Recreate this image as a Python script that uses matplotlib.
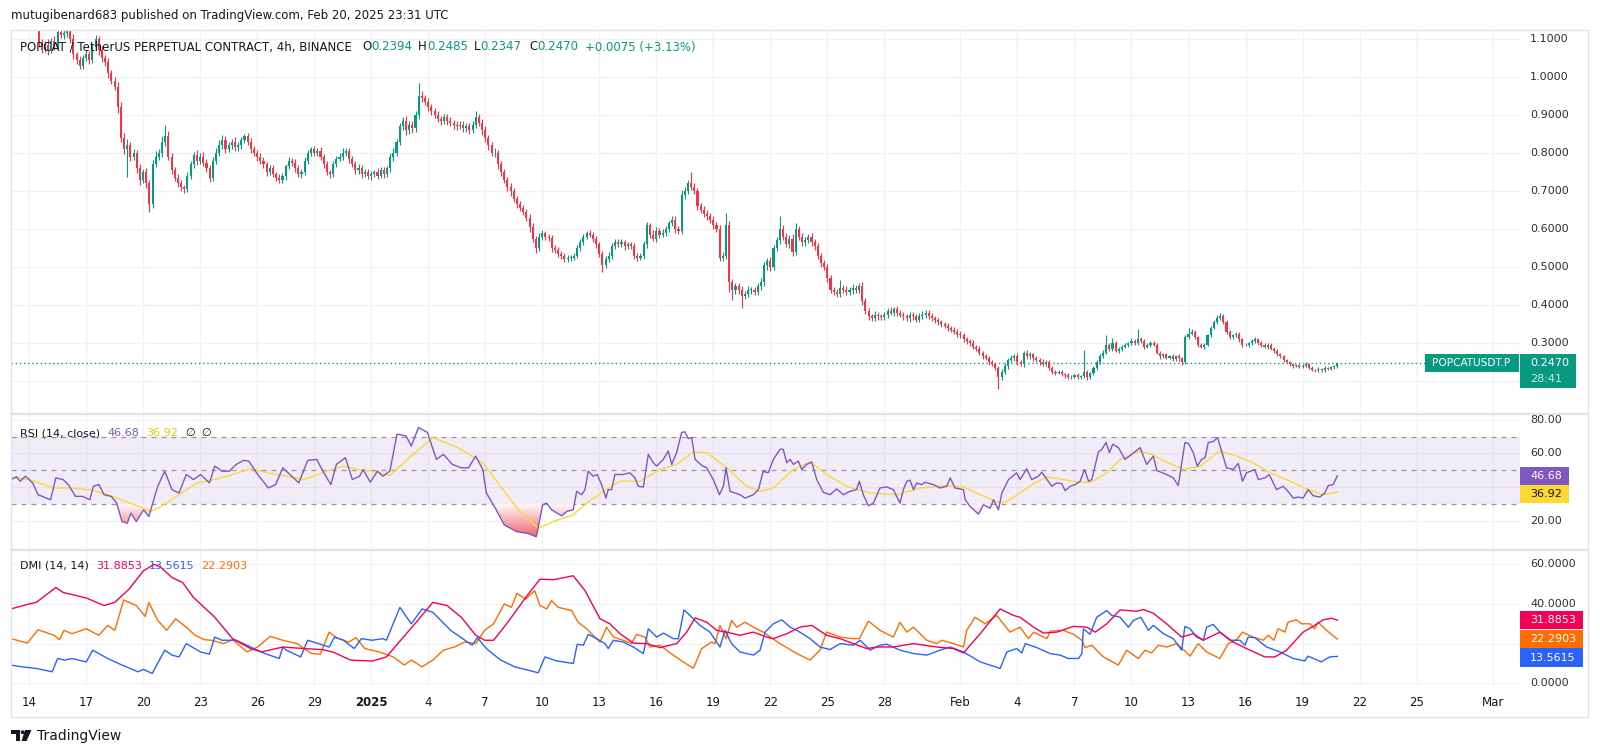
import numpy as np
import matplotlib
matplotlib.use('Agg')
import matplotlib.pyplot as plt
from matplotlib.patches import Rectangle, Polygon, Circle
from matplotlib.lines import Line2D
from matplotlib.path import Path
from matplotlib.colors import LinearSegmentedColormap
from matplotlib.transforms import blended_transform_factory

plt.rcParams['font.family'] = ['DejaVu Sans']

# ------------ data: POPCAT/USDT.P 4h, first bar 2024-12-13 04:00 UTC ------------
# x values are days since 2025-01-01 00:00 UTC

OPEN0 = 1.150
CLOSE = [
    [1.160, 1.150, 1.165, 1.150, 1.140],          # Dec 13
    [1.140, 1.135, 1.128, 1.090, 1.072, 1.085],   # Dec 14
    [1.070, 1.095, 1.080, 1.118, 1.110, 1.115],
    [1.120, 1.100, 1.060, 1.045, 1.030, 1.050],
    [1.060, 1.045, 1.080, 1.100, 1.070, 1.050],
    [1.040, 1.010, 0.990, 0.975, 0.920, 0.840],
    [0.810, 0.820, 0.790, 0.800, 0.760, 0.730],
    [0.750, 0.720, 0.665, 0.770, 0.790, 0.800],   # Dec 20
    [0.830, 0.845, 0.790, 0.755, 0.735, 0.720],
    [0.710, 0.705, 0.740, 0.770, 0.795, 0.780],
    [0.790, 0.775, 0.760, 0.735, 0.780, 0.800],
    [0.820, 0.835, 0.810, 0.820, 0.830, 0.815],
    [0.820, 0.835, 0.845, 0.830, 0.810, 0.800],
    [0.790, 0.780, 0.770, 0.750, 0.760, 0.745],
    [0.735, 0.730, 0.740, 0.765, 0.780, 0.775],
    [0.760, 0.745, 0.750, 0.780, 0.800, 0.810],
    [0.800, 0.805, 0.790, 0.770, 0.750, 0.745],
    [0.770, 0.785, 0.790, 0.800, 0.805, 0.785],
    [0.770, 0.755, 0.760, 0.745, 0.750, 0.740],   # Dec 31
    [0.745, 0.750, 0.740, 0.755, 0.745, 0.760],   # Jan 1
    [0.790, 0.800, 0.830, 0.870, 0.885, 0.860],
    [0.875, 0.865, 0.900, 0.950, 0.945, 0.935],
    [0.920, 0.910, 0.900, 0.890, 0.885, 0.895],
    [0.885, 0.880, 0.875, 0.870, 0.875, 0.865],
    [0.870, 0.860, 0.875, 0.895, 0.880, 0.860],
    [0.840, 0.820, 0.800, 0.800, 0.770, 0.750],
    [0.730, 0.710, 0.700, 0.680, 0.665, 0.655],
    [0.645, 0.630, 0.605, 0.575, 0.550, 0.580],
    [0.590, 0.580, 0.576, 0.550, 0.545, 0.535],   # Jan 10
    [0.530, 0.520, 0.525, 0.525, 0.530, 0.550],
    [0.565, 0.580, 0.590, 0.585, 0.575, 0.560],
    [0.535, 0.505, 0.520, 0.530, 0.555, 0.565],
    [0.560, 0.565, 0.555, 0.560, 0.555, 0.530],
    [0.525, 0.530, 0.560, 0.610, 0.585, 0.575],
    [0.595, 0.585, 0.590, 0.600, 0.615, 0.625],
    [0.600, 0.595, 0.690, 0.700, 0.720, 0.710],
    [0.700, 0.660, 0.650, 0.640, 0.635, 0.625],
    [0.610, 0.600, 0.525, 0.530, 0.610, 0.460],
    [0.440, 0.450, 0.440, 0.425, 0.430, 0.440],   # Jan 20
    [0.440, 0.435, 0.450, 0.460, 0.505, 0.515],
    [0.500, 0.550, 0.570, 0.600, 0.580, 0.560],
    [0.575, 0.540, 0.600, 0.580, 0.565, 0.570],
    [0.580, 0.565, 0.555, 0.530, 0.510, 0.500],
    [0.470, 0.440, 0.435, 0.430, 0.445, 0.440],
    [0.435, 0.440, 0.445, 0.440, 0.450, 0.410],
    [0.385, 0.370, 0.365, 0.375, 0.370, 0.368],
    [0.375, 0.385, 0.380, 0.390, 0.380, 0.375],
    [0.370, 0.365, 0.375, 0.370, 0.362, 0.370],
    [0.375, 0.380, 0.370, 0.365, 0.360, 0.355],
    [0.350, 0.345, 0.340, 0.335, 0.330, 0.325],   # Jan 31
    [0.320, 0.310, 0.305, 0.300, 0.290, 0.285],   # Feb 1
    [0.275, 0.265, 0.260, 0.250, 0.245, 0.235],
    [0.210, 0.225, 0.240, 0.255, 0.260, 0.265],
    [0.250, 0.245, 0.275, 0.265, 0.270, 0.260],
    [0.255, 0.250, 0.245, 0.250, 0.235, 0.225],
    [0.222, 0.225, 0.218, 0.215, 0.210, 0.212],
    [0.215, 0.210, 0.213, 0.225, 0.210, 0.220],
    [0.235, 0.250, 0.265, 0.275, 0.295, 0.285],
    [0.300, 0.280, 0.285, 0.290, 0.295, 0.300],
    [0.305, 0.300, 0.310, 0.305, 0.290, 0.295],   # Feb 10
    [0.300, 0.295, 0.275, 0.265, 0.270, 0.262],
    [0.265, 0.258, 0.265, 0.260, 0.250, 0.315],
    [0.325, 0.330, 0.315, 0.295, 0.290, 0.295],
    [0.320, 0.340, 0.355, 0.365, 0.370, 0.355],
    [0.330, 0.315, 0.320, 0.325, 0.310, 0.295],
    [0.295, 0.300, 0.305, 0.310, 0.300, 0.295],
    [0.290, 0.295, 0.285, 0.280, 0.270, 0.265],
    [0.255, 0.250, 0.245, 0.240, 0.242, 0.238],
    [0.240, 0.245, 0.235, 0.230, 0.228, 0.232],
    [0.228, 0.235, 0.232, 0.236, 0.2394, 0.2470], # Feb 20
]

# wick lengths beyond the body, in thousandths
WICK_UP = [
    [10, 8, 12, 9, 10],
    [6, 8, 5, 12, 9, 10], [15, 8, 12, 10, 7, 9], [8, 10, 12, 7, 9, 8],
    [12, 9, 8, 10, 8, 12], [9, 11, 8, 10, 12, 15], [12, 18, 9, 10, 8, 11],
    [8, 10, 9, 12, 15, 10], [14, 30, 12, 9, 8, 10], [8, 6, 10, 8, 9, 14],
    [10, 12, 8, 9, 10, 12], [15, 12, 9, 10, 8, 12], [10, 8, 6, 9, 10, 8],
    [8, 9, 10, 7, 8, 9], [6, 9, 8, 7, 10, 8], [8, 9, 7, 10, 8, 7],
    [9, 8, 10, 7, 8, 6], [8, 7, 9, 12, 9, 8], [6, 9, 12, 8, 7, 8],
    [9, 6, 10, 8, 9, 7], [10, 12, 8, 10, 9, 12], [8, 10, 10, 35, 12, 9],
    [10, 8, 9, 10, 7, 9], [8, 9, 7, 8, 10, 8], [9, 10, 8, 15, 8, 9],
    [10, 8, 9, 12, 8, 10], [9, 8, 10, 7, 8, 9], [8, 7, 9, 10, 8, 9],
    [8, 6, 7, 9, 8, 7], [6, 7, 8, 6, 7, 8], [9, 8, 6, 7, 8, 7],
    [6, 7, 8, 9, 7, 8], [10, 8, 7, 6, 7, 8], [6, 8, 9, 8, 7, 12],
    [10, 8, 9, 8, 7, 10], [9, 8, 12, 10, 9, 29], [12, 9, 8, 10, 9, 8],
    [9, 8, 10, 9, 33, 12], [8, 9, 7, 10, 8, 9], [7, 8, 9, 10, 8, 10],
    [12, 9, 10, 34, 10, 9], [10, 12, 15, 8, 10, 9], [8, 10, 9, 7, 8, 9],
    [8, 9, 7, 6, 21, 8], [9, 8, 10, 7, 8, 10], [8, 6, 7, 9, 6, 7],
    [8, 7, 10, 6, 8, 7], [6, 7, 8, 7, 6, 8], [9, 7, 6, 8, 7, 6],
    [7, 6, 8, 5, 6, 7], [6, 7, 5, 6, 7, 5], [6, 5, 7, 5, 6, 5],
    [6, 8, 7, 6, 8, 7], [9, 6, 5, 8, 6, 5], [6, 5, 7, 5, 6, 5],
    [5, 4, 5, 4, 5, 4], [4, 5, 4, 57, 5, 4], [5, 6, 5, 7, 27, 6],
    [13, 6, 5, 6, 5, 4], [8, 5, 27, 6, 5, 4], [6, 5, 4, 5, 4, 5],
    [4, 5, 4, 5, 4, 6], [15, 6, 5, 4, 5, 4], [5, 4, 6, 8, 9, 6],
    [5, 4, 5, 4, 5, 4], [5, 4, 6, 5, 4, 5], [4, 5, 4, 5, 4, 3],
    [4, 3, 4, 3, 4, 3], [4, 5, 3, 4, 3, 4], [3, 4, 3, 4, 3, 1.5],
]
WICK_DN = [
    [10, 9, 8, 10, 9],
    [6, 5, 5, 10, 8, 7], [12, 8, 9, 7, 8, 10], [9, 10, 12, 10, 8, 9],
    [8, 10, 9, 8, 12, 10], [10, 12, 9, 8, 15, 12], [12, 73, 10, 9, 12, 14],
    [10, 12, 20, 10, 8, 9], [10, 12, 9, 10, 8, 9], [10, 10, 8, 9, 10, 12],
    [9, 8, 10, 12, 8, 9], [8, 10, 9, 8, 10, 9], [9, 10, 8, 9, 10, 8],
    [10, 8, 9, 10, 7, 9], [8, 9, 8, 10, 7, 8], [9, 8, 10, 7, 8, 9],
    [8, 7, 9, 10, 8, 12], [9, 8, 7, 8, 9, 10], [8, 10, 9, 12, 8, 9],
    [10, 8, 9, 7, 10, 8], [9, 10, 8, 9, 10, 12], [10, 12, 9, 10, 10, 8],
    [9, 10, 8, 9, 10, 8], [10, 8, 12, 9, 8, 10], [9, 10, 8, 9, 10, 12],
    [10, 12, 9, 10, 12, 10], [10, 9, 12, 10, 9, 8], [9, 10, 12, 10, 12, 9],
    [8, 9, 7, 10, 8, 9], [8, 7, 6, 8, 7, 6], [7, 8, 6, 7, 8, 9],
    [8, 17, 8, 7, 9, 8], [8, 7, 9, 8, 7, 8], [8, 7, 8, 9, 8, 7],
    [9, 8, 7, 8, 9, 8], [10, 9, 8, 10, 9, 8], [9, 10, 8, 9, 10, 8],
    [10, 9, 8, 10, 9, 25], [26, 10, 12, 33, 10, 9], [10, 9, 8, 10, 9, 12],
    [10, 9, 8, 10, 9, 8], [10, 12, 9, 8, 10, 9], [8, 10, 9, 8, 10, 9],
    [10, 9, 8, 10, 9, 8], [9, 8, 10, 9, 8, 10], [9, 8, 7, 8, 9, 7],
    [8, 9, 7, 8, 9, 7], [8, 7, 9, 8, 7, 6], [7, 8, 6, 7, 8, 7],
    [7, 6, 8, 7, 6, 8], [7, 6, 8, 7, 6, 7], [6, 7, 5, 8, 6, 7],
    [30, 7, 6, 8, 6, 7], [8, 6, 7, 6, 7, 8], [6, 7, 5, 6, 7, 6],
    [5, 4, 5, 6, 5, 4], [4, 5, 4, 5, 6, 4], [4, 5, 4, 5, 4, 6],
    [5, 4, 6, 5, 4, 5], [4, 5, 4, 5, 6, 4], [5, 4, 5, 6, 4, 5],
    [4, 5, 4, 6, 7, 4], [5, 4, 5, 6, 4, 5], [4, 5, 4, 5, 4, 6],
    [5, 4, 5, 4, 6, 5], [4, 5, 4, 5, 4, 5], [4, 5, 4, 5, 4, 5],
    [4, 3, 4, 5, 3, 4], [3, 4, 3, 4, 5, 3], [5, 3, 4, 3, 4, 4.7],
]

RSI_PTS = [
    (-18.95, 44.4), (-18.66, 46.0), (-18.47, 43.4), (-18.19, 46.4), (-17.81, 42.4),
    (-17.53, 35.4), (-16.87, 32.4), (-16.59, 45.4), (-16.21, 44.4), (-15.93, 41.4),
    (-15.56, 34.4), (-15.18, 34.4), (-14.80, 32.4), (-14.62, 40.4), (-14.33, 41.4),
    (-14.05, 35.4), (-13.68, 34.4), (-13.39, 30.4), (-13.11, 19.4), (-12.83, 18.4),
    (-12.64, 24.4), (-12.36, 19.4), (-11.98, 26.4), (-11.70, 22.4), (-11.23, 40.4),
    (-10.86, 49.4), (-10.48, 38.4), (-10.11, 36.4), (-9.73, 47.4), (-9.35, 44.4),
    (-8.98, 47.4), (-8.51, 42.4), (-8.23, 52.4), (-7.85, 49.4), (-7.47, 49.4),
    (-7.10, 53.4), (-6.72, 55.8), (-6.44, 55.4), (-5.97, 47.4), (-5.41, 39.4),
    (-5.03, 41.4), (-4.65, 51.4), (-4.28, 47.4), (-3.81, 42.4), (-3.34, 55.8),
    (-2.87, 56.4), (-2.49, 48.4), (-2.12, 41.4), (-1.83, 53.4), (-1.36, 57.4),
    (-0.99, 44.4), (-0.61, 46.4), (-0.42, 50.4), (-0.05, 42.8), (0.33, 49.4),
    (0.61, 46.4), (0.98, 49.4), (1.36, 71.4), (1.83, 70.4), (2.11, 64.4),
    (2.49, 75.4), (2.96, 72.4), (3.43, 56.4), (3.80, 59.4), (4.27, 53.4),
    (4.74, 51.4), (5.12, 51.4), (5.50, 58.4), (5.87, 50.4), (6.06, 36.4),
    (6.53, 27.4), (7.00, 17.4), (7.66, 13.4), (8.22, 12.4), (8.69, 10.4),
    (9.02, 29.4), (9.23, 30.4), (9.49, 26.4), (10.02, 22.8), (10.28, 25.4),
    (10.63, 26.4), (10.81, 37.4), (11.07, 35.4), (11.25, 38.4), (11.42, 49.4),
    (11.68, 46.4), (11.89, 47.4), (12.12, 41.4), (12.35, 33.4), (12.47, 38.4),
    (12.65, 38.4), (12.82, 47.4), (13.26, 47.4), (13.61, 48.4), (13.88, 45.4),
    (14.05, 40.4), (14.32, 40.0), (14.58, 59.4), (14.84, 54.4), (15.02, 52.4),
    (15.37, 56.4), (15.63, 61.4), (15.81, 53.4), (16.07, 60.4), (16.33, 72.4),
    (16.51, 72.8), (16.68, 68.8), (16.86, 69.4), (17.04, 56.4), (17.39, 52.8),
    (17.65, 51.4), (18.00, 44.4), (18.32, 35.4), (18.53, 40.4), (18.67, 51.4),
    (18.88, 37.4), (19.14, 36.4), (19.40, 35.4), (19.67, 33.4), (20.11, 35.4),
    (20.37, 38.4), (20.63, 49.4), (20.89, 48.4), (21.16, 56.4), (21.51, 62.4),
    (21.68, 62.4), (21.86, 54.4), (22.04, 56.4), (22.21, 53.4), (22.47, 55.4),
    (22.65, 50.4), (22.91, 53.4), (23.18, 54.8), (23.44, 44.4), (23.79, 36.8),
    (24.14, 35.4), (24.49, 38.8), (24.84, 35.4), (25.19, 37.4), (25.54, 38.4),
    (25.68, 43.4), (25.89, 35.4), (26.16, 28.8), (26.42, 30.4), (26.77, 39.4),
    (27.12, 40.0), (27.47, 38.4), (27.82, 30.4), (28.00, 38.4), (28.18, 43.4),
    (28.35, 44.0), (28.53, 38.4), (28.70, 42.4), (28.96, 41.4), (29.14, 42.8),
    (29.58, 41.4), (29.93, 39.4), (30.28, 40.4), (30.46, 45.4), (30.72, 39.4),
    (31.16, 38.4), (31.25, 32.4), (31.51, 28.4), (31.95, 23.8), (32.21, 29.4),
    (32.56, 27.4), (32.74, 32.4), (33.00, 26.4), (33.18, 36.4), (33.53, 44.4),
    (33.96, 48.4), (34.14, 44.4), (34.49, 50.8), (34.75, 44.4), (35.11, 46.4),
    (35.28, 48.8), (35.81, 40.4), (36.07, 42.4), (36.33, 42.0), (36.51, 37.8),
    (36.77, 40.4), (37.04, 41.4), (37.30, 43.4), (37.53, 50.4), (37.74, 43.4),
    (37.91, 44.4), (38.26, 60.8), (38.44, 62.4), (38.66, 66.4), (38.84, 60.4),
    (39.01, 65.4), (39.31, 63.4), (39.66, 56.4), (40.01, 59.4), (40.45, 63.4),
    (40.80, 53.4), (41.15, 58.4), (41.33, 49.8), (41.85, 47.4), (42.20, 45.4),
    (42.46, 40.8), (42.81, 66.4), (42.99, 66.0), (43.25, 60.4), (43.46, 52.4),
    (43.69, 56.4), (43.87, 57.4), (44.04, 66.4), (44.30, 67.0), (44.53, 69.4),
    (44.74, 61.4), (45.00, 51.4), (45.35, 50.4), (45.62, 54.0), (45.84, 43.4),
    (46.05, 48.4), (46.49, 50.4), (46.67, 44.4), (47.02, 45.4), (47.25, 47.4),
    (47.63, 38.4), (47.98, 40.4), (48.24, 37.4), (48.51, 33.4), (48.77, 34.0),
    (49.03, 33.4), (49.29, 38.4), (49.56, 34.8), (49.91, 34.0), (50.17, 36.4),
    (50.35, 40.8), (50.61, 41.4), (50.83, 46.68),
]
RSI_MA_PTS = [
    (-18.95, 46.0), (-18.0, 44.4), (-16.68, 39.4), (-15.74, 39.4), (-14.62, 38.0),
    (-13.86, 35.4), (-12.92, 31.4), (-11.98, 27.4), (-11.61, 25.4), (-11.05, 28.4),
    (-10.11, 35.4), (-9.17, 42.4), (-8.23, 44.4), (-7.29, 47.4), (-6.35, 50.8),
    (-5.41, 48.4), (-4.47, 46.4), (-3.53, 44.4), (-2.59, 48.4), (-1.46, 52.4),
    (-0.71, 50.4), (0.23, 49.0), (0.98, 46.8), (2.11, 58.4), (3.24, 69.4),
    (4.56, 63.4), (5.87, 54.4), (6.81, 40.4), (7.75, 26.4), (8.79, 15.4),
    (9.58, 19.4), (10.63, 23.4), (11.33, 30.4), (12.21, 37.4), (13.09, 43.4),
    (14.14, 43.4), (15.19, 50.4), (16.07, 53.4), (16.95, 60.8), (17.65, 60.4),
    (18.70, 51.4), (19.75, 40.4), (20.46, 37.4), (21.16, 39.4), (22.21, 50.4),
    (23.09, 55.0), (23.96, 47.4), (25.02, 40.4), (26.25, 36.4), (27.65, 35.4),
    (28.88, 39.4), (30.28, 40.8), (31.16, 40.0), (32.04, 35.4), (33.09, 30.4),
    (33.44, 31.4), (34.14, 36.4), (34.85, 42.0), (35.55, 46.0), (36.42, 44.4),
    (37.12, 42.8), (37.91, 42.8), (38.70, 48.4), (39.40, 56.4), (40.45, 61.4),
    (41.15, 59.0), (41.85, 54.8), (42.73, 50.4), (43.60, 52.4), (44.65, 61.4),
    (45.53, 58.4), (46.40, 54.4), (47.11, 49.4), (48.16, 44.4), (49.21, 38.8),
    (50.08, 35.4), (50.83, 36.92),
]

# DMI(14, 14): ADX, +DI, -DI  (day, value)
ADX_PTS = [
    (-18.95, 37.5), (-18.0, 40.0), (-17.62, 40.8), (-16.59, 48.3), (-16.21, 45.8),
    (-14.99, 43.0), (-14.05, 39.2), (-13.49, 40.8), (-12.74, 47.5), (-11.98, 56.7),
    (-11.42, 60.0), (-11.05, 58.3), (-10.48, 53.3), (-9.92, 50.8), (-9.35, 43.3),
    (-8.23, 33.3), (-7.29, 22.5), (-6.35, 17.5), (-5.78, 15.8), (-4.65, 18.3),
    (-3.53, 17.5), (-2.59, 17.0), (-2.02, 15.8), (-1.08, 11.7), (0.05, 11.2),
    (0.80, 13.3), (1.55, 21.7), (2.30, 30.0), (3.24, 40.8), (3.99, 39.2),
    (4.74, 33.3), (5.50, 24.2), (5.97, 21.7), (6.44, 21.7), (7.19, 30.8),
    (8.13, 43.3), (8.88, 52.5), (9.58, 52.2), (10.63, 54.2), (11.25, 46.7),
    (12.04, 32.5), (12.56, 30.0), (13.09, 25.0), (13.79, 20.3), (14.49, 20.0),
    (15.19, 18.0), (16.07, 20.0), (16.60, 25.8), (17.04, 33.0), (17.65, 30.8),
    (18.18, 26.7), (18.70, 25.8), (19.40, 24.2), (20.11, 25.8), (20.81, 23.3),
    (21.16, 22.5), (21.86, 25.0), (22.56, 28.3), (23.18, 29.2), (23.96, 24.2),
    (24.67, 22.5), (25.37, 20.0), (26.07, 17.5), (26.60, 18.3), (27.47, 18.3),
    (28.53, 20.0), (29.75, 18.3), (30.63, 17.5), (31.16, 15.3), (32.04, 25.0),
    (33.09, 37.5), (33.79, 34.2), (34.14, 33.3), (34.85, 28.3), (35.37, 25.3),
    (36.07, 25.8), (36.95, 28.7), (37.65, 28.3), (38.09, 25.8), (38.70, 30.0),
    (39.40, 37.0), (40.27, 36.3), (40.63, 37.2), (41.15, 35.3), (41.85, 30.0),
    (42.64, 23.3), (43.25, 25.0), (43.78, 21.7), (44.65, 25.8), (45.35, 20.8),
    (46.05, 17.5), (47.02, 13.3), (47.54, 13.3), (48.16, 16.7), (49.03, 25.8),
    (49.56, 28.7), (50.08, 32.0), (50.52, 32.8), (50.83, 31.8853),
]
PDI_PTS = [
    (-18.95, 9.2), (-18.38, 8.3), (-17.62, 7.5), (-16.78, 5.8), (-16.50, 12.5),
    (-16.12, 11.7), (-15.74, 12.5), (-14.99, 10.8), (-14.65, 16.7), (-13.86, 12.5),
    (-13.11, 9.2), (-12.27, 5.8), (-11.98, 7.0), (-11.52, 5.0), (-10.86, 16.7),
    (-10.48, 14.2), (-10.11, 13.3), (-9.73, 20.0), (-8.98, 15.8), (-8.51, 14.7),
    (-8.23, 23.3), (-7.85, 21.7), (-7.10, 21.7), (-6.35, 18.3), (-5.59, 15.0),
    (-4.84, 12.5), (-4.65, 18.3), (-4.47, 16.7), (-3.71, 13.3), (-3.34, 21.7),
    (-2.77, 20.0), (-2.21, 18.3), (-1.93, 23.3), (-1.46, 21.7), (-0.89, 17.5),
    (-0.52, 22.5), (0.05, 21.7), (0.61, 22.5), (0.80, 21.7), (1.51, 38.3),
    (2.11, 30.0), (2.68, 37.5), (3.24, 35.8), (4.18, 26.7), (4.93, 21.7),
    (5.31, 19.2), (5.59, 23.0), (6.06, 17.5), (6.81, 11.7), (7.56, 8.3),
    (8.79, 5.3), (9.14, 13.3), (9.75, 11.3), (10.63, 10.0), (10.84, 19.7),
    (11.16, 19.2), (11.42, 24.7), (11.86, 22.5), (12.30, 20.0), (12.47, 17.5),
    (12.74, 21.7), (13.26, 20.8), (13.79, 18.3), (14.32, 15.0), (14.58, 27.5),
    (15.02, 23.3), (15.37, 25.3), (15.89, 22.5), (16.16, 22.5), (16.46, 37.0),
    (16.77, 34.2), (17.30, 29.2), (17.82, 25.8), (18.35, 18.3), (18.61, 26.7),
    (18.96, 20.0), (19.40, 15.8), (20.11, 14.2), (20.46, 16.7), (20.72, 25.8),
    (21.16, 30.0), (21.60, 32.0), (22.04, 28.3), (22.39, 26.7), (22.74, 24.7),
    (23.09, 22.5), (23.61, 18.3), (24.14, 17.0), (24.67, 20.0), (25.37, 19.2),
    (25.72, 21.7), (26.25, 16.7), (26.77, 19.2), (27.12, 19.7), (27.82, 16.7),
    (28.53, 15.0), (29.23, 14.2), (29.93, 16.7), (30.46, 18.3), (31.16, 15.8),
    (32.04, 10.8), (33.09, 7.5), (33.44, 15.8), (33.96, 17.5), (34.23, 15.3),
    (34.41, 20.0), (35.02, 18.0), (35.72, 15.0), (36.25, 14.2), (36.68, 12.5),
    (37.21, 12.5), (37.39, 15.0), (37.47, 27.5), (37.82, 24.7), (38.17, 33.3),
    (38.70, 36.7), (38.96, 34.2), (39.40, 33.3), (39.84, 28.3), (40.10, 31.7),
    (40.49, 33.3), (40.89, 26.7), (41.15, 29.2), (41.68, 25.0), (42.20, 22.5),
    (42.64, 16.7), (42.81, 28.7), (43.08, 27.5), (43.43, 23.3), (43.78, 21.7),
    (43.95, 28.3), (44.30, 29.7), (44.65, 25.8), (45.18, 21.7), (45.70, 21.7),
    (45.97, 19.2), (46.14, 23.3), (46.49, 23.0), (47.11, 18.3), (47.81, 15.8),
    (48.51, 12.5), (49.12, 11.3), (49.29, 13.7), (49.99, 10.8), (50.43, 13.3),
    (50.83, 13.5615),
]
MDI_PTS = [
    (-18.95, 22.5), (-18.09, 20.3), (-17.53, 27.0), (-16.68, 24.2), (-16.40, 22.0),
    (-16.16, 26.7), (-15.74, 25.0), (-14.99, 27.5), (-14.33, 24.2), (-13.86, 29.2),
    (-13.49, 26.7), (-13.02, 42.0), (-12.36, 39.2), (-11.89, 33.7), (-11.70, 40.8),
    (-11.23, 31.7), (-10.76, 26.7), (-10.29, 32.5), (-9.73, 28.3), (-9.26, 24.2),
    (-8.79, 22.0), (-8.41, 21.7), (-7.76, 20.0), (-7.29, 22.0), (-6.53, 15.8),
    (-5.97, 18.3), (-5.31, 23.7), (-4.65, 21.7), (-3.90, 20.0), (-3.15, 15.0),
    (-2.68, 14.7), (-2.21, 25.8), (-1.83, 23.0), (-1.18, 20.8), (-0.80, 23.0),
    (-0.33, 17.5), (0.42, 15.8), (1.17, 13.3), (1.74, 9.2), (2.11, 11.7),
    (2.68, 8.3), (3.24, 11.7), (3.80, 16.7), (4.37, 18.3), (4.93, 20.8),
    (5.50, 20.0), (5.97, 26.7), (6.44, 30.0), (7.00, 40.0), (7.38, 38.3),
    (7.66, 45.3), (8.13, 42.5), (8.60, 46.7), (8.88, 39.2), (9.23, 37.5),
    (9.49, 41.7), (9.84, 38.3), (10.54, 36.7), (10.89, 30.8), (11.33, 27.5),
    (12.04, 20.8), (12.39, 28.3), (12.74, 23.3), (13.26, 21.7), (13.70, 20.0),
    (13.96, 24.7), (14.40, 23.3), (14.67, 18.3), (15.19, 19.2), (15.89, 14.2),
    (16.42, 10.8), (16.95, 7.5), (17.39, 17.5), (17.91, 20.8), (18.09, 20.0),
    (18.35, 29.2), (18.67, 22.5), (18.96, 31.7), (19.23, 28.3), (19.67, 30.8),
    (20.11, 28.3), (20.63, 25.8), (21.51, 20.0), (22.39, 15.0), (23.09, 11.7),
    (23.61, 16.7), (23.96, 25.8), (24.67, 23.3), (25.37, 22.5), (25.68, 22.5),
    (26.16, 31.3), (26.77, 26.7), (27.47, 23.3), (27.82, 30.8), (28.18, 25.8),
    (28.53, 28.3), (29.23, 21.7), (29.75, 20.0), (30.02, 21.7), (30.63, 20.0),
    (31.16, 18.3), (31.33, 26.7), (31.77, 33.3), (32.30, 30.0), (32.91, 34.2),
    (33.61, 25.8), (34.14, 28.3), (34.58, 22.5), (34.85, 25.8), (35.55, 22.5),
    (35.72, 26.3), (36.42, 26.7), (36.95, 24.7), (37.39, 21.7), (37.56, 18.0),
    (37.91, 19.2), (38.52, 13.3), (39.31, 9.2), (39.75, 16.7), (40.36, 12.5),
    (40.71, 16.7), (41.06, 15.3), (41.41, 19.2), (41.85, 18.3), (42.38, 20.0),
    (42.73, 17.0), (43.08, 13.7), (43.51, 20.0), (43.95, 15.8), (44.65, 12.5),
    (45.09, 20.0), (45.53, 22.0), (45.84, 25.8), (46.40, 23.3), (46.93, 21.7),
    (47.19, 24.2), (47.49, 21.7), (47.72, 27.5), (48.07, 25.8), (48.24, 30.8),
    (48.68, 32.0), (48.94, 30.0), (49.38, 30.0), (49.64, 27.5), (49.82, 30.8),
    (50.26, 26.7), (50.83, 22.2903),
]

TICK_DAYS = [-18, -15, -12, -9, -6, -3, 0, 3, 6, 9, 12, 15, 18, 21, 24, 27,
             31, 34, 37, 40, 43, 46, 49, 52, 55, 59]
TICK_LABELS = ['14', '17', '20', '23', '26', '29', '2025', '4', '7', '10', '13',
               '16', '19', '22', '25', '28', 'Feb', '4', '7', '10', '13', '16',
               '19', '22', '25', 'Mar']

# ------------ style ------------
W, H = 1600, 756
UP_C, DN_C = '#089981', '#F23645'
TXT = '#131722'
SCALE_TXT = '#2A2E39'
GRID = '#F0F1F4'
BORDER = '#E0E3EB'
RSI_C, RSI_MA_C = '#7E57C2', '#FDD835'
ADX_C, PDI_C, MDI_C = '#F50057', '#2962FF', '#FF6D00'
FS = 8
LEG_FS = 8.5
XLIM = (-18.95, 60.44)

fig = plt.figure(figsize=(W / 100, H / 100), dpi=100)
fig.patch.set_facecolor('white')


def box(x0, y0, x1, y1):
    return [x0 / W, 1 - y1 / H, (x1 - x0) / W, (y1 - y0) / H]


def pane(y0, y1, ylim, yticks):
    ax = fig.add_axes(box(11, y0, 1520, y1))
    ax.set_xlim(*XLIM)
    ax.set_ylim(*ylim)
    ax.set_xticks(TICK_DAYS)
    ax.set_yticks(yticks)
    ax.grid(True, color=GRID, lw=1)
    ax.set_axisbelow(True)
    ax.tick_params(length=0, labelleft=False, labelbottom=False)
    for s in ax.spines.values():
        s.set_visible(False)
    sx = fig.add_axes(box(1520, y0, 1588, y1))
    sx.set_ylim(*ylim)
    sx.set_xlim(0, 1)
    sx.axis('off')
    return ax, sx


def scale_labels(sx, values, fmt):
    tr = blended_transform_factory(sx.transAxes, sx.transData)
    for v in values:
        sx.text(10 / 68, v, fmt % v, transform=tr, ha='left', va='center',
                fontsize=FS, color=SCALE_TXT, clip_on=True)


def badges(sx, items, h, x1):
    # items: (value, text, face, text colour); stacked downwards when they collide
    prev = None
    for v, s, fc, tc in sorted(items, key=lambda it: -it[0]):
        yc = sx.transData.transform((0, v))[1]
        if prev is not None and prev - yc < h:
            yc = prev - h
        prev = yc
        fig.add_artist(Rectangle((1520 / W, (yc - h / 2) / H), (x1 - 1520) / W, h / H,
                                 transform=fig.transFigure, fc=fc, ec='none'))
        fig.text(1530 / W, yc / H, s, color=tc, fontsize=FS, ha='left', va='center')


def seq_text(x_px, y_px, parts, size=LEG_FS):
    r = fig.canvas.get_renderer()
    x = x_px
    for s, c, gap in parts:
        t = fig.text(x / W, 1 - y_px / H, s, color=c, fontsize=size, ha='left', va='center')
        x += t.get_window_extent(renderer=r).width + gap


def zone_fill(ax, t, v, level, edge, col, alpha):
    where = v < level if edge < level else v > level
    coll = ax.fill_between(t, v, level, where=where, interpolate=True,
                           facecolor='none', edgecolor='none')
    paths = [p for p in coll.get_paths() if len(p.vertices)]
    if not paths:
        return
    clip = Path.make_compound_path(*paths)
    cmap = LinearSegmentedColormap.from_list('zone', ['#FFFFFF', col])
    grad = np.linspace(0, 1, 256).reshape(-1, 1)
    if edge < level:
        grad = grad[::-1]
    lo, hi = sorted((level, edge))
    im = ax.imshow(grad, extent=[t[0], t[-1], lo, hi], origin='lower', aspect='auto',
                   cmap=cmap, alpha=alpha, zorder=1.5)
    im.set_clip_path(clip, ax.transData)


# ------------ price pane ------------
ax_p, sx_p = pane(30, 414, (0.1134, 1.1237), np.arange(0.2, 1.15, 0.1))

close = np.concatenate([np.array(r, float) for r in CLOSE])
up_w = np.concatenate([np.array(r, float) for r in WICK_UP]) / 1000
dn_w = np.concatenate([np.array(r, float) for r in WICK_DN]) / 1000
opn = np.r_[OPEN0, close[:-1]]
t = -19 + 4 / 24 + np.arange(len(close)) / 6
top = np.maximum(opn, close)
bot = np.minimum(opn, close)
cols = np.where(close >= opn, UP_C, DN_C)

ax_p.vlines(t, bot - dn_w, top + up_w, colors=cols, lw=0.8, zorder=2)
ax_p.bar(t, np.maximum(top - bot, 0.0012), bottom=bot, width=0.11,
         color=cols, lw=0, zorder=3)
ax_p.axhline(close[-1], color=UP_C, lw=1, ls=(0, (1, 2)), zorder=1.5)
ax_p.set_xlim(*XLIM)
ax_p.set_ylim(0.1134, 1.1237)

# 0.2000 sits under the last-price badge, so it is not labelled
scale_labels(sx_p, np.arange(0.3, 1.15, 0.1), '%.4f')

# last price badges
yc = sx_p.transData.transform((0, close[-1]))[1]
fig.add_artist(Rectangle((1425 / W, (yc - 9) / H), 94 / W, 18 / H,
                         transform=fig.transFigure, fc=UP_C, ec='none'))
fig.text(1471 / W, yc / H, 'POPCATUSDT.P', color='white', fontsize=7.6, ha='center', va='center')
fig.add_artist(Rectangle((1520 / W, (yc - 25) / H), 56 / W, 34 / H,
                         transform=fig.transFigure, fc=UP_C, ec='none'))
fig.text(1530 / W, yc / H, '%.4f' % close[-1], color='white', fontsize=FS, ha='left', va='center')
fig.text(1530 / W, (yc - 16) / H, '28:41', color='#C8E9E3', fontsize=FS, ha='left', va='center')

# ------------ RSI pane ------------
ax_r, sx_r = pane(414, 550, (2.5, 83.4), [20, 40, 60, 80])
rsi_t, rsi_v = np.array(RSI_PTS).T
ma_t, ma_v = np.array(RSI_MA_PTS).T
ax_r.axhspan(30, 70, color=RSI_C, alpha=0.1, lw=0, zorder=1)
for lv in (70, 50, 30):
    ax_r.axhline(lv, color='#9598A1', lw=0.9, ls=(0, (4, 4)), zorder=1.2)
zone_fill(ax_r, rsi_t, rsi_v, 30, 10, '#EF4F5E', 0.9)
zone_fill(ax_r, rsi_t, rsi_v, 70, 100, '#26A69A', 0.6)
ax_r.plot(ma_t, ma_v, color=RSI_MA_C, lw=1.0, zorder=3)
ax_r.plot(rsi_t, rsi_v, color=RSI_C, lw=1.0, zorder=4)
ax_r.set_xlim(*XLIM)
ax_r.set_ylim(2.5, 83.4)
scale_labels(sx_r, [20, 60, 80], '%.2f')
badges(sx_r, [(rsi_v[-1], '%.2f' % rsi_v[-1], RSI_C, 'white'),
              (ma_v[-1], '%.2f' % ma_v[-1], RSI_MA_C, TXT)], 18, 1569)

# ------------ DMI pane ------------
ax_d, sx_d = pane(550, 686, (-1.36, 67.2), [0, 20, 40, 60])
adx_t, adx_v = np.array(ADX_PTS).T
pdi_t, pdi_v = np.array(PDI_PTS).T
mdi_t, mdi_v = np.array(MDI_PTS).T
ax_d.plot(mdi_t, mdi_v, color=MDI_C, lw=1.0, zorder=3)
ax_d.plot(pdi_t, pdi_v, color=PDI_C, lw=1.0, zorder=3)
ax_d.plot(adx_t, adx_v, color=ADX_C, lw=1.0, zorder=4)
ax_d.set_xlim(*XLIM)
scale_labels(sx_d, [0, 40, 60], '%.4f')
badges(sx_d, [(adx_v[-1], '%.4f' % adx_v[-1], ADX_C, 'white'),
              (mdi_v[-1], '%.4f' % mdi_v[-1], MDI_C, 'white'),
              (pdi_v[-1], '%.4f' % pdi_v[-1], PDI_C, 'white')], 18.7, 1583)

# ------------ time axis ------------
tr = blended_transform_factory(ax_d.transData, fig.transFigure)
for d, lab in zip(TICK_DAYS, TICK_LABELS):
    ax_d.text(d, 1 - 702 / H, lab, transform=tr, ha='center', va='center',
              fontsize=FS + 0.5, color=TXT, fontweight='bold' if lab == '2025' else 'normal',
              clip_on=False)

# ------------ frame ------------
fig.add_artist(Rectangle((11 / W, 1 - 717 / H), 1577 / W, 687 / H, transform=fig.transFigure,
                         fc='none', ec=BORDER, lw=1))
for yy in (414, 550):
    fig.add_artist(Line2D([11 / W, 1588 / W], [1 - yy / H] * 2, transform=fig.transFigure,
                          color=BORDER, lw=1.6))

# ------------ texts ------------
fig.text(11 / W, 1 - 16 / H, 'mutugibenard683 published on TradingView.com, Feb 20, 2025 23:31 UTC',
         fontsize=LEG_FS, color=TXT, ha='left', va='center')

seq_text(20, 47, [('POPCAT / TetherUS PERPETUAL CONTRACT, 4h, BINANCE', TXT, 9)])
for x0, k, v in [(362, 'O', '0.2394'), (418, 'H', '0.2485'), (474, 'L', '0.2347'),
                 (529, 'C', '0.2470')]:
    seq_text(x0, 47, [(k, TXT, 0), (v, UP_C, 0)])
seq_text(585, 47, [('+0.0075 (+3.13%)', UP_C, 0)])

seq_text(20, 433, [('RSI (14, close)', TXT, 7), ('%.2f' % rsi_v[-1], RSI_C, 7),
                   ('%.2f' % ma_v[-1], '#E6C800', 7), ('\u2205', TXT, 6), ('\u2205', TXT, 0)],
         size=FS)
seq_text(20, 566, [('DMI (14, 14)', TXT, 7), ('%.4f' % adx_v[-1], ADX_C, 7),
                   ('%.4f' % pdi_v[-1], PDI_C, 7), ('%.4f' % mdi_v[-1], MDI_C, 0)],
         size=FS)


# TradingView mark and name (pixel coords from the top, flipped for display)
def px(pts):
    return [(x, H - y) for x, y in pts]


fig.add_artist(Polygon(px([(11, 730), (20, 730), (20, 741), (16, 741), (16, 734), (11, 734)]),
                       closed=True, transform=None, fc=TXT, ec='none'))
fig.add_artist(Polygon(px([(25, 730), (31.5, 730), (26.5, 741), (21.5, 741)]), closed=True,
                       transform=None, fc=TXT, ec='none'))
fig.add_artist(Circle((22.6, H - 732.2), 1.9, transform=None, fc=TXT, ec='none'))
fig.text(37 / W, 1 - 736 / H, 'TradingView', fontsize=10, color=TXT, ha='left', va='center')

fig.savefig('out.png', dpi=100, facecolor='white')
